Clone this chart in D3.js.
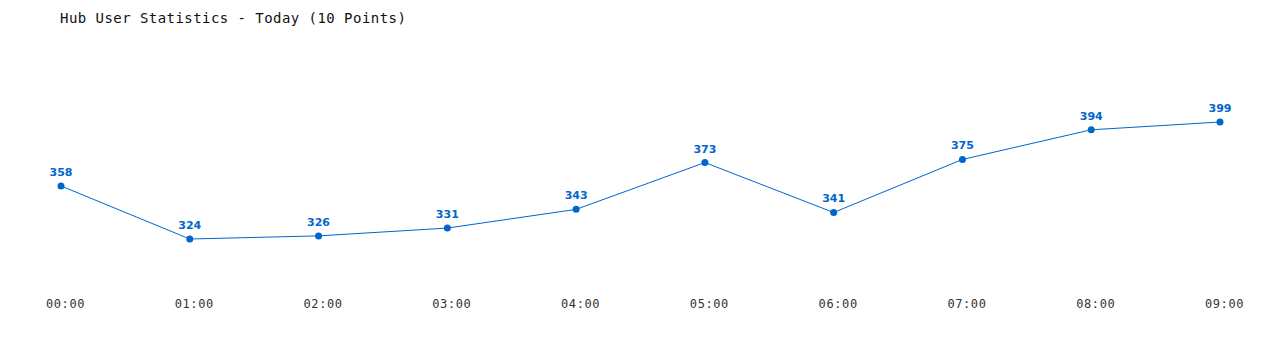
<!DOCTYPE html>
<html lang="en">
<head>
  <meta charset="utf-8">
  <title>Hub User Statistics</title>
  <style>
    body { margin: 0; background: #fff; }
    .title { font-family: 'DejaVu Sans Mono', monospace; font-size: 14px; letter-spacing: 0.45px; fill: #111; }
    .xlab { font-family: 'DejaVu Sans Mono', monospace; font-size: 12px; letter-spacing: 0.6px; fill: #333; }
    .vlab { font-family: 'DejaVu Sans', sans-serif; font-size: 11px; font-weight: bold; fill: #0066cc; }
  </style>
  <script src="https://d3js.org/d3.v7.min.js"></script>
</head>
<body>
<svg id="chart" width="1280" height="350"></svg>
<script>
// chart data
const hours = ["00:00", "01:00", "02:00", "03:00", "04:00", "05:00", "06:00", "07:00", "08:00", "09:00"];
const users = [358, 324, 326, 331, 343, 373, 341, 375, 394, 399];
const chartTitle = "Hub User Statistics - Today (10 Points)";

const svg = d3.select("#chart");

const x = d3.scalePoint().domain(hours).range([61, 1220]);
const y = d3.scaleLinear().domain([324, 399]).range([239, 122]);

svg.append("text").attr("class", "title")
  .attr("x", 60).attr("y", 23)
  .text(chartTitle);

// x axis labels only, no line / ticks
const xAxis = d3.axisBottom(x).tickSize(0).tickPadding(0);
const gx = svg.append("g").attr("transform", "translate(4,299)").call(xAxis);
gx.select(".domain").remove();
gx.selectAll("text").attr("class", "xlab").attr("fill", null)
  .attr("font-family", null).attr("font-size", null);
gx.attr("font-family", null).attr("font-size", null);

const pts = hours.map((h, i) => ({ h: h, v: users[i] }));

const line = d3.line().x(d => x(d.h)).y(d => y(d.v));
svg.append("path").datum(pts)
  .attr("d", line)
  .attr("fill", "none")
  .attr("stroke", "#0066cc")
  .attr("stroke-width", 1);

svg.selectAll("circle.pt").data(pts).enter().append("circle")
  .attr("class", "pt")
  .attr("cx", d => x(d.h)).attr("cy", d => y(d.v))
  .attr("r", 3.5)
  .attr("fill", "#0066cc");

svg.selectAll("text.vlab").data(pts).enter().append("text")
  .attr("class", "vlab")
  .attr("x", d => x(d.h)).attr("y", d => y(d.v) - 10)
  .attr("text-anchor", "middle")
  .text(d => d.v);
</script>
</body>
</html>
